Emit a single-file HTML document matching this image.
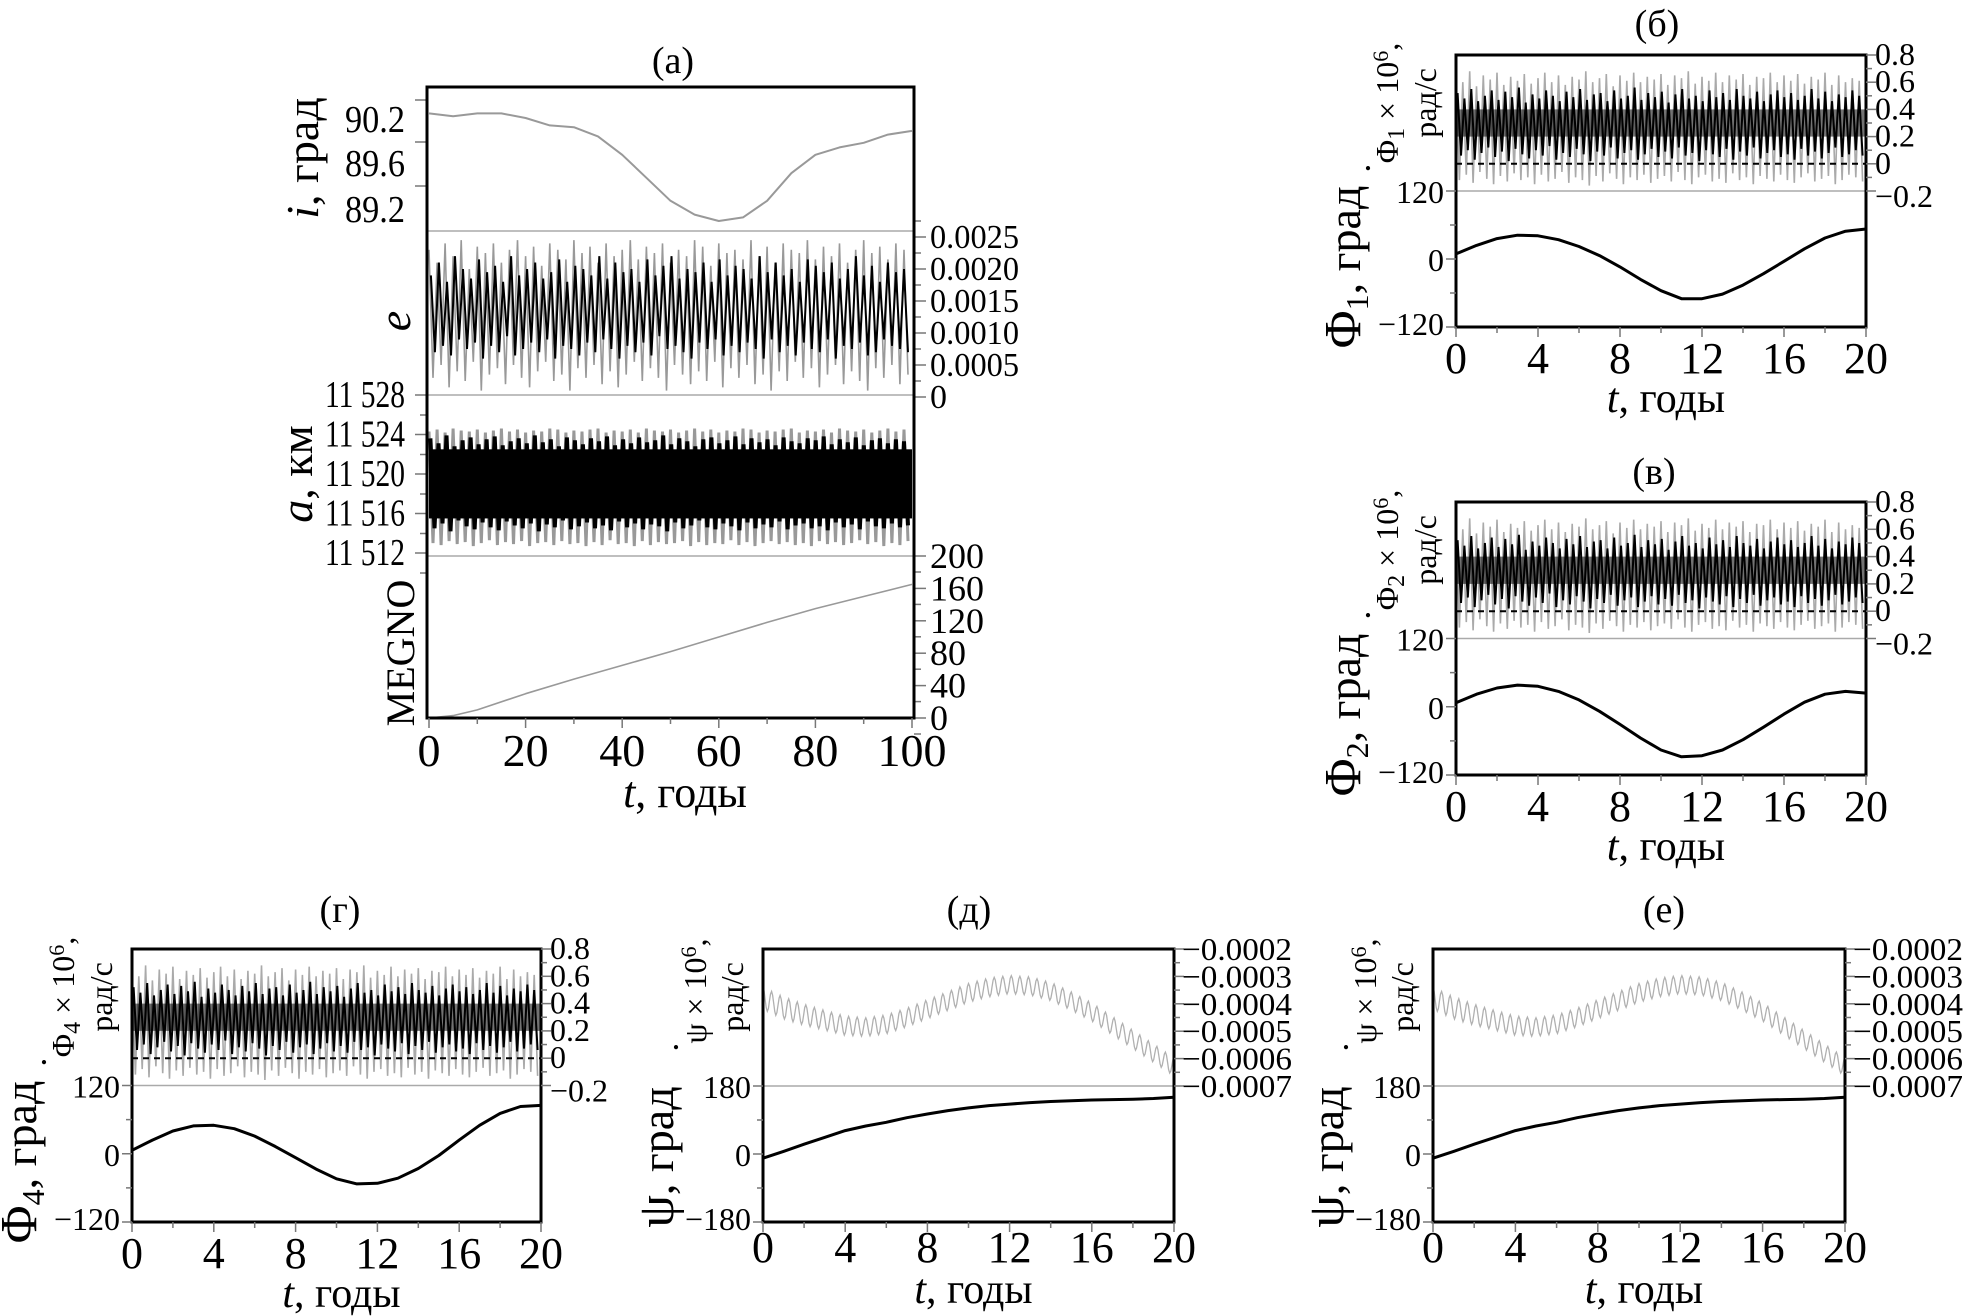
<!DOCTYPE html>
<html><head><meta charset="utf-8"><style>
html,body{margin:0;padding:0;background:#fff;}
svg{display:block;font-family:"Liberation Serif","DejaVu Serif",serif;}
</style></head><body>
<svg id="fig" width="1969" height="1316" viewBox="0 0 1969 1316" xmlns="http://www.w3.org/2000/svg"></svg>
<script>
// ---------- data ----------
const iT = [0,5,10,15,20,25,30,35,40,45,50,55,60,65,70,75,80,85,90,95,100];
const iVal = [90.25,90.22,90.25,90.25,90.2,90.12,90.1,90.0,89.8,89.55,89.3,89.15,89.08,89.12,89.3,89.6,89.8,89.88,89.93,90.02,90.06];
const megT = [0,5,10,20,30,40,50,60,70,80,90,100];
const megVal = [0,3,10,30,48,65,82,100,118,135,150,165];
const eHi = [2.3,2.1,2.4,2.2,2.45,2.0,2.35,2.25,2.4,2.1,2.3,2.45,2.2,2.35,2.05,2.4,2.3,2.15,2.45,2.25,2.35,2.1,2.4,2.2,2.3,2.45,2.15,2.35,2.25,2.4,2.1,2.3,2.2,2.45,2.35,2.05,2.4,2.25,2.3,2.15,2.45,2.2,2.35,2.1,2.4,2.3,2.25,2.45,2.15,2.35,2.2,2.4,2.1,2.3,2.45,2.25,2.35,2.15,2.4,2.3];
const eLo = [0.3,0.5,0.15,0.4,0.25,0.55,0.1,0.35,0.45,0.2,0.5,0.3,0.15,0.4,0.55,0.25,0.35,0.1,0.45,0.3,0.5,0.2,0.4,0.15,0.35,0.55,0.25,0.45,0.3,0.1,0.5,0.35,0.2,0.4,0.25,0.55,0.15,0.45,0.3,0.5,0.2,0.35,0.1,0.4,0.25,0.55,0.3,0.45,0.15,0.35,0.5,0.2,0.4,0.25,0.1,0.45,0.3,0.5,0.2,0.35];
const eInHi = [1.9,2.1,1.8,2.2,2.0,1.85,2.15,1.95,2.05,1.8,2.2,1.9,2.0,2.1,1.85,1.95,2.15,1.8,2.05,2.0,1.9,2.2,1.85,2.1,1.95,2.0,1.8,2.15,1.9,2.05,2.2,1.85,2.0,1.95,2.1,1.8,2.15,1.9,2.05,2.0,1.85,2.2,1.95,2.1,1.9,2.0,1.8,2.15,2.05,1.95,2.1,1.85,2.0,2.2,1.9,2.05,1.8,2.1,1.95,2.0];
const eInLo = [0.7,0.8,0.65,0.9,0.75,0.85,0.6,0.8,0.7,0.95,0.65,0.75,0.85,0.7,0.9,0.6,0.8,0.75,0.65,0.85,0.7,0.9,0.75,0.6,0.8,0.7,0.85,0.65,0.95,0.75,0.8,0.7,0.6,0.85,0.75,0.9,0.65,0.8,0.7,0.85,0.75,0.6,0.9,0.7,0.8,0.65,0.85,0.75,0.7,0.9,0.6,0.8,0.75,0.85,0.65,0.7,0.9,0.8,0.75,0.7];
const aHi = [24.3,24.5,24.2,24.6,24.4,24.3,24.5,24.2,24.4,24.6,24.3,24.5,24.2,24.4,24.3,24.6,24.5,24.2,24.4,24.3,24.5,24.6,24.2,24.4,24.3,24.5,24.2,24.6,24.4,24.3,24.5,24.2,24.4,24.6,24.3,24.5,24.2,24.4,24.3,24.6,24.5,24.2,24.4,24.3,24.5,24.6,24.2,24.4,24.3,24.5,24.2,24.6,24.4,24.3,24.5,24.2,24.4,24.6,24.3,24.5];
const aLo = [13.0,12.8,13.2,12.9,13.1,12.7,13.0,13.3,12.8,13.1,12.9,13.2,12.7,13.0,13.1,12.8,13.2,12.9,13.0,12.7,13.1,12.8,13.3,12.9,13.0,12.7,13.2,12.8,13.1,12.9,13.0,13.2,12.7,13.1,12.8,13.0,12.9,13.3,12.8,13.1,12.7,13.0,13.2,12.9,13.1,12.8,13.0,12.7,13.2,12.9,13.1,12.8,13.0,13.3,12.9,13.1,12.7,13.0,12.8,13.2];
const aInHi = [23.6,23.1,23.9,22.8,23.4,23.7,23.0,23.5,23.8,22.9,23.3,23.6,23.1,23.9,23.2,23.5,22.8,23.7,23.4,23.0,23.6,23.3,23.8,22.9,23.5,23.1,23.7,23.2,23.4,23.9,23.0,23.6,23.3,22.8,23.5,23.7,23.1,23.4,23.8,23.0,23.6,23.2,23.5,22.9,23.7,23.3,23.1,23.6,23.4,23.8,23.0,23.5,23.2,23.7,22.9,23.4,23.6,23.1,23.5,23.3];
const aInLo = [14.5,15.0,14.2,15.3,14.7,14.4,15.1,14.6,14.3,15.2,14.8,14.5,15.0,14.2,14.9,14.6,15.3,14.4,14.7,15.1,14.5,14.8,14.3,15.2,14.6,15.0,14.4,14.9,14.7,14.2,15.1,14.5,14.8,15.3,14.6,14.4,15.0,14.7,14.3,15.1,14.5,14.9,14.6,15.2,14.4,14.8,15.0,14.5,14.7,14.3,15.1,14.6,14.9,14.4,15.2,14.7,14.5,15.0,14.6,14.8];
const phdHi = [0.66,0.6,0.68,0.57,0.65,0.62,0.67,0.58,0.64,0.61,0.66,0.59,0.63,0.67,0.6,0.65,0.58,0.64,0.62,0.68,0.6,0.63,0.66,0.57,0.65,0.61,0.67,0.6,0.64,0.62,0.66,0.58,0.65,0.63,0.68,0.59,0.64,0.61,0.67,0.6,0.65,0.62,0.66,0.58,0.64,0.63,0.67,0.6,0.65,0.61,0.66,0.59,0.64,0.62,0.67,0.58,0.65,0.6,0.63,0.61];
const phdLo = [-0.12,-0.08,-0.14,-0.06,-0.11,-0.15,-0.09,-0.13,-0.07,-0.12,-0.1,-0.15,-0.08,-0.13,-0.11,-0.06,-0.14,-0.1,-0.12,-0.16,-0.09,-0.13,-0.07,-0.11,-0.15,-0.1,-0.12,-0.08,-0.14,-0.11,-0.09,-0.13,-0.06,-0.12,-0.15,-0.1,-0.08,-0.13,-0.11,-0.14,-0.07,-0.12,-0.1,-0.15,-0.09,-0.11,-0.13,-0.08,-0.12,-0.14,-0.1,-0.07,-0.13,-0.11,-0.09,-0.15,-0.12,-0.08,-0.1,-0.13];
const phdInHi = [0.52,0.48,0.55,0.46,0.5,0.54,0.47,0.53,0.49,0.56,0.45,0.51,0.48,0.54,0.5,0.46,0.53,0.49,0.55,0.47,0.51,0.52,0.46,0.54,0.48,0.5,0.56,0.47,0.52,0.49,0.53,0.45,0.51,0.55,0.48,0.5,0.46,0.54,0.49,0.52,0.47,0.55,0.5,0.48,0.53,0.46,0.51,0.54,0.49,0.52,0.47,0.5,0.55,0.48,0.53,0.46,0.51,0.49,0.54,0.5];
const phdInLo = [0.06,0.1,0.03,0.08,0.12,0.05,0.09,0.02,0.11,0.07,0.04,0.1,0.06,0.13,0.03,0.08,0.05,0.11,0.07,0.02,0.09,0.06,0.12,0.04,0.08,0.1,0.03,0.07,0.11,0.05,0.09,0.04,0.12,0.06,0.08,0.02,0.1,0.07,0.05,0.11,0.03,0.09,0.06,0.12,0.04,0.08,0.1,0.05,0.07,0.03,0.11,0.06,0.09,0.04,0.08,0.12,0.05,0.07,0.1,0.06];
const yearT = [0,1,2,3,4,5,6,7,8,9,10,11,12,13,14,15,16,17,18,19,20];
const phi1 = [9,24,36,42,41,34,22,6,-14,-36,-56,-70,-70,-62,-46,-26,-4,18,37,49,53];
const phi2 = [7,22,33,38,36,27,12,-8,-31,-55,-76,-88,-86,-76,-58,-36,-13,8,22,27,24];
const phi4 = [6,24,40,49,50,44,31,13,-7,-27,-44,-53,-52,-43,-26,-3,24,50,71,83,85];
const psi = [-11,7,26,44,62,74,84,96,106,115,122,128,132,136,139,141,143,144,145,147,150];
const psiDotMean = [-3.8,-4.15,-4.4,-4.6,-4.8,-4.85,-4.75,-4.5,-4.2,-3.9,-3.6,-3.4,-3.3,-3.35,-3.55,-3.9,-4.3,-4.8,-5.3,-5.8,-6.3];
const psiDotAmp = [0.4,0.4,0.38,0.36,0.35,0.34,0.34,0.34,0.34,0.34,0.34,0.34,0.33,0.33,0.33,0.33,0.33,0.33,0.33,0.33,0.33];
const psiCycles = 48;
const xTicks20 = [0,4,8,12,16,20];
const xTicks100 = [0,20,40,60,80,100];
const phdTicks = ['0.8','0.6','0.4','0.2','0','\u22120.2'];
const phdTickVals = [0.8,0.6,0.4,0.2,0,-0.2];
const psiDotTickVals = [-2,-3,-4,-5,-6,-7];

// ---------- helpers ----------
const NS='http://www.w3.org/2000/svg';
const svg=document.getElementById('fig');
function mk(tag,attrs,parent){const e=document.createElementNS(NS,tag);for(const k in attrs)e.setAttribute(k,attrs[k]);(parent||svg).appendChild(e);return e;}
function txt(x,y,s,size,anchor,parent){const t=mk('text',{x:x,y:y,'font-size':size,'text-anchor':anchor||'middle',fill:'#000'},parent);t.textContent=s;return t;}
function lin(d0,d1,r0,r1){return v=>r0+(v-d0)*(r1-r0)/(d1-d0);}
function curve(xs,ys,X,Y,color,w,parent){let d='';for(let i=0;i<xs.length;i++){d+=(i?'L':'M')+X(xs[i]).toFixed(1)+','+Y(ys[i]).toFixed(1);}return mk('path',{d:d,fill:'none',stroke:color,'stroke-width':w,'stroke-linejoin':'round'},parent);}
function zig(hi,lo,t0,t1,X,Y,color,w,parent){const n=hi.length,dt=(t1-t0)/n;let d='';for(let i=0;i<n;i++){d+=(i?'L':'M')+X(t0+i*dt).toFixed(1)+','+Y(hi[i]).toFixed(1)+'L'+X(t0+(i+0.5)*dt).toFixed(1)+','+Y(lo[i]).toFixed(1);}return mk('path',{d:d,fill:'none',stroke:color,'stroke-width':w},parent);}
function frame(x0,y0,x1,y1,parent){return mk('rect',{x:x0,y:y0,width:x1-x0,height:y1-y0,fill:'none',stroke:'#000','stroke-width':3},parent);}
function hline(x0,x1,y,parent){return mk('line',{x1:x0,x2:x1,y1:y,y2:y,stroke:'#aaa','stroke-width':1.5},parent);}
function tick(x0,y0,x1,y1,parent){return mk('line',{x1:x0,y1:y0,x2:x1,y2:y1,stroke:'#777','stroke-width':1.5},parent);}
function rotLabel(x,y,parent){const t=mk('text',{x:0,y:0,'font-size':46,'text-anchor':'middle',transform:'translate('+x+','+y+') rotate(-90)'},parent);return t;}
function addSpan(t,s,opts){const sp=mk('tspan',opts||{},t);sp.textContent=s;return sp;}
function fit(t,w){t.setAttribute('textLength',w);t.setAttribute('lengthAdjust','spacingAndGlyphs');}

// ---------- Panel (a) ----------
(function(){
 const g=mk('g',{});
 
 
 const L=427,R=914,T=87,B=718,s1=231,s2=395,s3=556;
 const X=lin(0,100,429,912);
 const t=txt(673,73,'(a)',38,'middle',g);
 
 
 const Yi=lin(90.2,89.2,118,210);
 hline(L,R,s1,g);hline(L,R,s2,g);hline(L,R,s3,g);
 const ic=curve(iT,iVal,X,Yi,'#999',2,g);
 
 
 [['90.2',120],['89.6',164],['89.2',210]].forEach(a=>{const l=txt(405,a[1]+12,a[0],38,'end',g);fit(l,60);});
 [100,142,186].forEach(y=>tick(L-12,y,L,y,g));
 const Ye=lin(0,2.5,397,237);
 const eg=zig(eHi,eLo,0,100,X,Ye,'#999',1.6,g);
 
 
 const eb=zig(eInHi,eInLo,0.4,100,X,Ye,'#000',2,g);
 
 
 ['0.0025','0.0020','0.0015','0.0010','0.0005','0'].forEach((s,k)=>{const v=2.5-k*0.5;const y=Ye(v);tick(R,y,R+12,y,g);tick(R,y-16,R+7,y-16,g);const l=txt(930,y+11,s,34,'start',g);if(s.length>1)fit(l,89);});
 const Ya=lin(28,12,395,553);
 const ag=zig(aHi,aLo,0,100,X,Ya,'#999',3,g);
 
 
 const ab=zig(aInHi,aInLo,0.3,100,X,Ya,'#000',4,g);
 
 
 mk('rect',{x:X(0),y:Ya(22.5),width:X(100)-X(0),height:Ya(15.5)-Ya(22.5),fill:'#000'},g);
 ['11 528','11 524','11 520','11 516','11 512'].forEach((s,k)=>{const v=28-4*k;const y=Ya(v);tick(L-12,y,L,y,g);tick(L-7,y+20,L,y+20,g);const l=txt(405,y+12,s,38,'end',g);fit(l,80);});
 const Ym=lin(0,200,718,556);
 const mc=curve(megT,megVal,X,Ym,'#999',1.6,g);
 
 
 [200,160,120,80,40,0].forEach(v=>{const y=Ym(v);tick(R,y,R+12,y,g);tick(R,y+16,R+7,y+16,g);const l=txt(930,y+12,String(v),36,'start',g);});
 frame(L,T,R,B,g);
 for(let v=0;v<=100;v+=10){tick(X(v),B,X(v),B+(v%20?6:10),g);}
 xTicks100.forEach(v=>{const l=txt(X(v),766,String(v),46,'middle',g);});
 const xt=txt(685,807,'',44,'middle',g);addSpan(xt,'t',{'font-style':'italic'});addSpan(xt,', годы');
 
 
 let r=rotLabel(318,158,g);addSpan(r,'i',{'font-style':'italic'});addSpan(r,', град');
 
 
 r=rotLabel(410,321,g);addSpan(r,'e',{'font-style':'italic'});
 
 
 r=rotLabel(312,474,g);addSpan(r,'a',{'font-style':'italic'});addSpan(r,', км');
 
 
 r=rotLabel(414,653,g);r.setAttribute('font-size',40);addSpan(r,'MEGNO');
 
 
})();

// ---------- Phi panels ----------
function phiPanel(name,title,tx,ty,L,R,T,B,phiArr,sub){
 const g=mk('g',{});
 
 
 const sep=T+(B-T)*0.5;
 const X=lin(0,20,L,R);
 const Yd=lin(0.8,-0.2,T,sep);
 const Yp=lin(120,-120,sep,B);
 const tl=txt(tx,ty,title,38,'middle',g);
 
 
 hline(L,R,sep,g);
 const zg=zig(phdHi,phdLo,0,20,X,Yd,'#aaa',1.6,g);
 
 
 const zb=zig(phdInHi,phdInLo,0.08,20,X,Yd,'#000',2,g);
 
 
 mk('rect',{x:L,y:Yd(0.4),width:R-L,height:Yd(0.2)-Yd(0.4),fill:'#000',opacity:0.55},g);
 mk('line',{x1:L,x2:R,y1:Yd(0),y2:Yd(0),stroke:'#000','stroke-width':2,'stroke-dasharray':'6,5'},g);
 const pc=curve(yearT,phiArr,X,Yp,'#000',3,g);
 
 
 frame(L,T,R,B,g);
 phdTickVals.forEach((v,k)=>{const y=Yd(v);tick(R,y,R+10,y,g);if(k<5)tick(R,y+Math.abs(Yd(0.1)-Yd(0)),R+6,y+Math.abs(Yd(0.1)-Yd(0)),g);const l=txt(R+9,y+(k==5?16:10),phdTicks[k],32,'start',g);});
 [120,0,-120].forEach(v=>{const y=Yp(v);tick(L-10,y,L,y,g);const l=txt(L-12,y+(v==-120?8:12),v<0?'\u2212120':String(v),32,'end',g);});
 [60,-60].forEach(v=>tick(L-6,Yp(v),L,Yp(v),g));
 for(let v=0;v<=20;v+=2){tick(X(v),B,X(v),B+(v%4?6:10),g);}
 xTicks20.forEach(v=>{const l=txt(X(v),B+46,String(v),44,'middle',g);});
 const xt=txt((L+R)/2+5,B+85,'',42,'middle',g);addSpan(xt,'t',{'font-style':'italic'});addSpan(xt,', годы');
 
 
 let r=rotLabel(L-96,B-60,g);addSpan(r,'\u03A6',{'font-size':52});addSpan(r,sub,{'font-size':32,dy:8});addSpan(r,', град',{dy:-8});
 
 
 r=rotLabel(L-58,T+48,g);r.setAttribute('font-size',32);addSpan(r,'\u03A6');addSpan(r,sub,{'font-size':24,dy:6});addSpan(r,' \u00D7 10',{dy:-6});addSpan(r,'6',{'font-size':22,dy:-10});addSpan(r,',',{dy:10});
 
 
 const dot=txt(L-58-30,T+115,'.',36,'middle',g);
 
 
 r=rotLabel(L-20,T+48,g);r.setAttribute('font-size',32);addSpan(r,'рад/с');
 
 
}
phiPanel('panel-b','(б)',1657,36,1456,1866,55,327,phi1,'1');
phiPanel('panel-v','(в)',1654,484,1456,1866,502,775,phi2,'2');
phiPanel('panel-g','(г)',340,922,132,541,949,1222,phi4,'4');

// ---------- Psi panels ----------
function psiPanel(name,title,tx,L,R){
 const T=949,B=1222,sep=1086;
 const g=mk('g',{});
 
 
 const X=lin(0,20,L,R);
 const Yd=lin(-2,-7,T,sep);
 const Yp=lin(180,-180,sep,B);
 const tl=txt(tx,922,title,38,'middle',g);
 
 
 hline(L,R,sep,g);
 let d='';const N=psiCycles*8;
 for(let k=0;k<=N;k++){const tt=20*k/N;const i=Math.min(19,Math.floor(tt));const f=tt-i;
  const m=psiDotMean[i]*(1-f)+psiDotMean[i+1]*f;const a=psiDotAmp[i]*(1-f)+psiDotAmp[i+1]*f;
  const v=m+a*Math.cos(2*Math.PI*psiCycles*tt/20);
  d+=(k?'L':'M')+X(tt).toFixed(1)+','+Yd(v).toFixed(1);}
 const pd=mk('path',{d:d,fill:'none',stroke:'#b0b0b0','stroke-width':1.3},g);
 
 
 const pc=curve(yearT,psi,X,Yp,'#000',3,g);
 
 
 frame(L,T,R,B,g);
 psiDotTickVals.forEach((v,k)=>{const y=Yd(v);tick(R,y,R+10,y,g);if(k<5)tick(R,y+13.7,R+6,y+13.7,g);const l=txt(R+8,y+11,'\u22120.000'+(-v),32,'start',g);fit(l,110);});
 [180,0,-180].forEach(v=>{const y=Yp(v);tick(L-10,y,L,y,g);const l=txt(L-12,y+(v==-180?8:12),v<0?'\u2212180':String(v),32,'end',g);});
 [90,-90].forEach(v=>tick(L-6,Yp(v),L,Yp(v),g));
 for(let v=0;v<=20;v+=2){tick(X(v),B,X(v),B+(v%4?6:10),g);}
 xTicks20.forEach(v=>{const l=txt(X(v),B+40,String(v),44,'middle',g);});
 const xt=txt((L+R)/2+5,1303,'',42,'middle',g);addSpan(xt,'t',{'font-style':'italic'});addSpan(xt,', годы');
 
 
 let r=rotLabel(L-90,B-65,g);addSpan(r,'\u03C8',{'font-size':52});addSpan(r,', град');
 
 
 r=rotLabel(L-57,T+42,g);r.setAttribute('font-size',32);addSpan(r,'\u03C8 \u00D7 10');addSpan(r,'6',{'font-size':22,dy:-10});addSpan(r,',',{dy:10});
 
 
 const dot=txt(L-57-30,T+100,'.',36,'middle',g);
 
 
 r=rotLabel(L-20,T+48,g);r.setAttribute('font-size',32);addSpan(r,'рад/с');
 
 
}
psiPanel('panel-d','(д)',969,763,1174);
psiPanel('panel-e','(е)',1664,1433,1845);
</script>
</body></html>
